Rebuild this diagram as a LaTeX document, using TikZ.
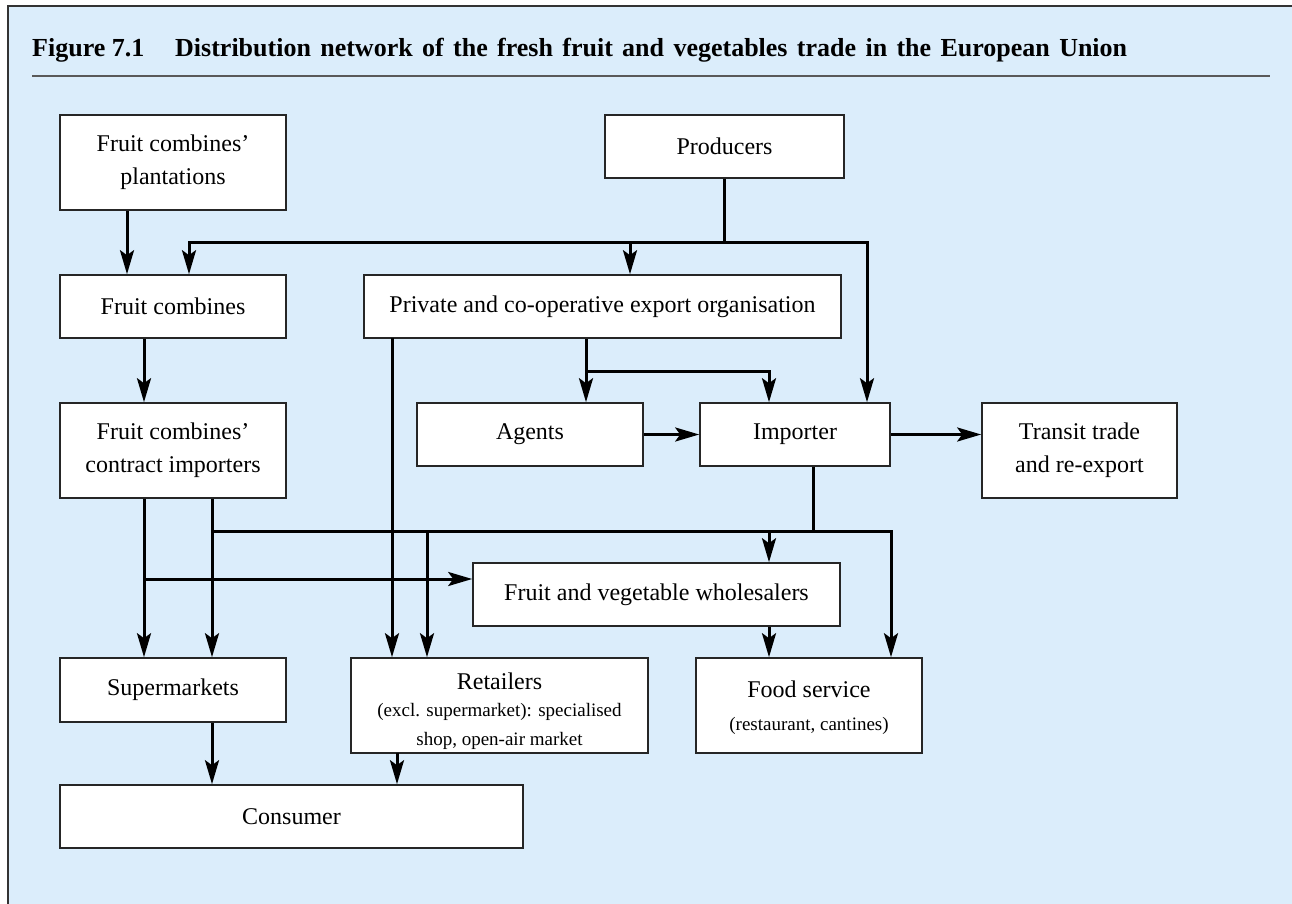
\documentclass[tikz,border=0pt]{standalone}
\usepackage{fontspec}
\setmainfont{Liberation Serif}
\usetikzlibrary{arrows.meta}

\definecolor{panelblue}{HTML}{DBEDFB}
\newcommand{\boxfont}{\fontsize{24}{33}\selectfont}
\newcommand{\notefont}{\fontsize{19}{29}\selectfont}
\newcommand{\titlefont}{\bfseries\fontsize{26}{30}\selectfont}

\begin{document}
\begin{tikzpicture}[x=1pt, y=-1pt,
    box/.style={draw=black!85, line width=1.6pt, fill=white, inner sep=0pt, align=center, font=\boxfont},
    wire/.style={line width=3pt},
    feed/.style={wire, -{Stealth[length=24pt, width=14pt, inset=5pt]}}]
  \useasboundingbox (0,0) rectangle (1292,904);
  % panel and its frame
  \fill[panelblue] (8,6) rectangle (1292,904);
  \draw[black!80, line width=1.5pt] (8,904) -- (8,6) -- (1292,6);
  % caption
  \node[anchor=base west, inner sep=0pt, font=\titlefont] (fignum) at (32,57) {Figure 7.1};
  \node[anchor=base west, inner sep=0pt, font=\titlefont] (figtitle) at (175,57)
    {\makebox[952pt][s]{Distribution network of the fresh fruit and vegetables trade in the European Union}};
  \draw[black!65, line width=1.5pt] (32,76) -- (1270,76);

  % boxes
  \node[box, minimum width=226, minimum height=95] (plant) at (173,162.5) {Fruit combines’\\plantations};
  \node[box, minimum width=239, minimum height=63] (prod) at (724.5,146.5) {Producers};
  \node[box, minimum width=226, minimum height=63] (fc) at (173,306.5) {Fruit combines};
  \node[box, minimum width=477, minimum height=63] (exp) at (602.5,306.5) {Private and co-operative export organisation};
  \node[box, minimum width=226, minimum height=95] (cimp) at (173,450.5) {Fruit combines’\\contract importers};
  \node[box, minimum width=226, minimum height=63] (agents) at (530,434.5) {Agents};
  \node[box, minimum width=190, minimum height=63] (imp) at (795,434.5) {Importer};
  \node[box, minimum width=195, minimum height=95] (transit) at (1079.5,450.5) {Transit trade\\and re-export};
  \node[box, minimum width=367, minimum height=63] (whole) at (656.5,594.5) {Fruit and vegetable wholesalers};
  \node[box, minimum width=226, minimum height=64] (super) at (173,690) {Supermarkets};
  \node[box, minimum width=297, minimum height=95] (retail) at (499.5,705.5)
    {\rule{0pt}{28pt}Retailers\\[-6pt]\notefont (excl. supermarket): specialised\\[-4pt]\notefont shop, open-air market};
  \node[box, minimum width=226, minimum height=95] (food) at (809,705.5)
    {\rule{0pt}{22pt}Food service\\\notefont (restaurant, cantines)};
  \node[box, minimum width=463, minimum height=63] (cons) at (291.5,816.5) {Consumer};

  % split points of the flows
  \coordinate (pfc) at (189,242);
  \coordinate (pexp) at (630,242);
  \coordinate (pimp) at (867,242);
  \coordinate (xag) at (586,371);
  \coordinate (ximp) at (769,371);
  \coordinate (xret) at (392,338);
  \coordinate (cl) at (144,579);
  \coordinate (cr) at (212,531);
  \coordinate (ij) at (813,531);
  \coordinate (iret) at (427,531);
  \coordinate (iwh) at (769,531);
  \coordinate (ifood) at (891,531);
  \coordinate (rc) at (397,753);

  % producers and fruit combines
  \draw[feed] ([xshift=-46]plant.south) -- ([xshift=-46]fc.north);
  \draw[feed] (prod.south) |- (pfc) -- (pfc |- fc.north);
  \draw[feed] (pexp) -- (pexp |- exp.north);
  \draw[feed] (prod.south) |- (pimp) -- (pimp |- imp.north);
  \draw[feed] (fc.south -| cl) -- (cimp.north -| cl);
  % export organisation
  \draw[feed] (exp.south -| xag) -- (xag |- agents.north);
  \draw[feed] (xag) -- (ximp) -- (ximp |- imp.north);
  \draw[feed] (xret) -- (xret |- retail.north);
  \draw[feed] (agents) -- (agents -| imp.west);
  \draw[feed] (imp) -- (imp -| transit.west);
  % importers down to the trade
  \draw[wire] (imp.south -| ij) -- (ij);
  \draw[feed] (cimp.south -| cr) -- (cr |- super.north);
  \draw[feed] (cr) -- (ifood) -- (ifood |- food.north);
  \draw[feed] (iret) -- (iret |- retail.north);
  \draw[feed] (iwh) -- (iwh |- whole.north);
  \draw[feed] (cimp.south -| cl) -- (cl |- super.north);
  \draw[feed] (cl) -- (cl -| whole.west);
  \draw[feed] (whole.south -| iwh) -- (iwh |- food.north);
  % to the consumer
  \draw[feed] (super.south -| cr) -- (cr |- cons.north);
  \draw[feed] (rc) -- (rc |- cons.north);
\end{tikzpicture}
\end{document}
